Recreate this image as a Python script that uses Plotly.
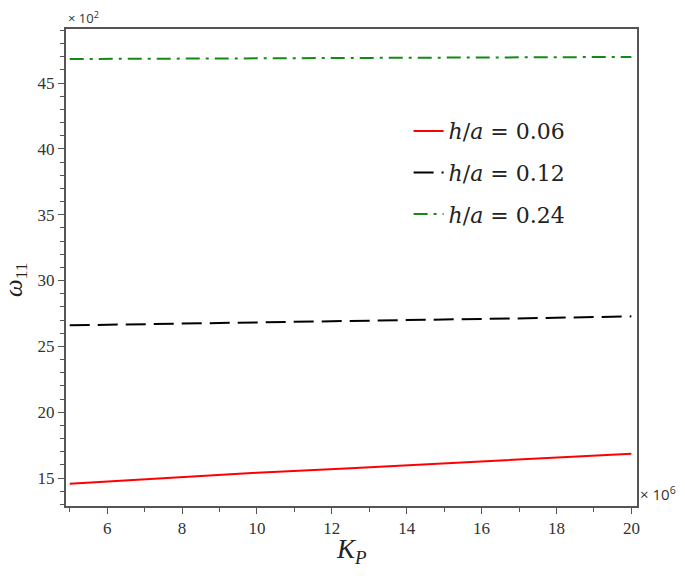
import plotly.graph_objects as go

# K_P (x 10^6) and omega_11 (x 10^2)
kp = [5, 7.5, 10, 12.5, 15, 17.5, 20]
w_006 = [14.57, 15.0, 15.4, 15.75, 16.1, 16.48, 16.85]
w_012 = [26.6, 26.7, 26.8, 26.92, 27.03, 27.15, 27.28]
w_024 = [46.82, 46.85, 46.87, 46.9, 46.93, 46.95, 46.98]
labels = ["0.06", "0.12", "0.24"]

serif = "Liberation Serif"
axis_col = "#555555"

fig = go.Figure()
styles = [
    (w_006, "#ff0000", "solid"),
    (w_012, "#000000", "20px,8px"),
    (w_024, "#138a13", "14px,6px,3px,6px"),
]
for (ys, col, dash), lab in zip(styles, labels):
    fig.add_trace(go.Scatter(
        x=kp, y=ys, mode="lines",
        line=dict(color=col, width=2, dash=dash),
        name=f"<i>h</i>/<i>a</i> = {lab}",
        legendgroup=lab,
    ))

axis_common = dict(
    showgrid=False, zeroline=False, automargin=False,
    showline=True, linecolor=axis_col, linewidth=2, mirror=True,
    ticks="outside", ticklen=6, tickcolor=axis_col, tickwidth=1,
    tickfont=dict(family=serif, size=17, color="#333333"),
)

fig.update_xaxes(
    range=[4.9, 20.15], tick0=6, dtick=2,
    minor=dict(ticks="outside", dtick=1, ticklen=4, tickcolor=axis_col),
    **axis_common,
)
fig.update_yaxes(
    range=[12.88, 49.1], tick0=15, dtick=5,
    minor=dict(ticks="outside", dtick=1, ticklen=4, tickcolor=axis_col),
    **axis_common,
)

# axis titles
fig.add_annotation(text="<i>K<sub>P</sub></i>", xref="paper", yref="paper", x=0.5, y=0,
                   xanchor="center", yanchor="top", yshift=-26, showarrow=False,
                   font=dict(family=serif, size=27, color="#222222"))
fig.add_annotation(text="<i>ω</i><sub>11</sub>", xref="paper", yref="paper", x=0, y=0.5,
                   xanchor="right", yanchor="middle", xshift=-33, yshift=-12,
                   textangle=-90, showarrow=False,
                   font=dict(family=serif, size=25, color="#222222"))

fig.add_annotation(text="× 10<sup>2</sup>", xref="paper", yref="paper", x=0.0, y=1.0,
                   xanchor="left", yanchor="bottom", showarrow=False, yshift=0,
                   font=dict(family="Open Sans", size=13, color="#333333"))
fig.add_annotation(text="× 10<sup>6</sup>", xref="paper", yref="paper", x=1.0, y=0.0,
                   xanchor="left", yanchor="bottom", showarrow=False, xshift=1,
                   font=dict(family="Open Sans", size=15, color="#333333"))

# page body adds an 8px margin, so the figure is 16px smaller than the window
fig.update_layout(
    width=669, height=560,
    margin=dict(l=58, r=40, t=21, b=62),
    plot_bgcolor="white", paper_bgcolor="white",
    showlegend=True,
    legend=dict(x=0.6, y=0.83, xanchor="left", yanchor="top",
                bgcolor="rgba(0,0,0,0)", tracegroupgap=10,
                font=dict(family="DejaVu Serif", size=22, color="#222222")),
)

fig.write_html("out.html")
